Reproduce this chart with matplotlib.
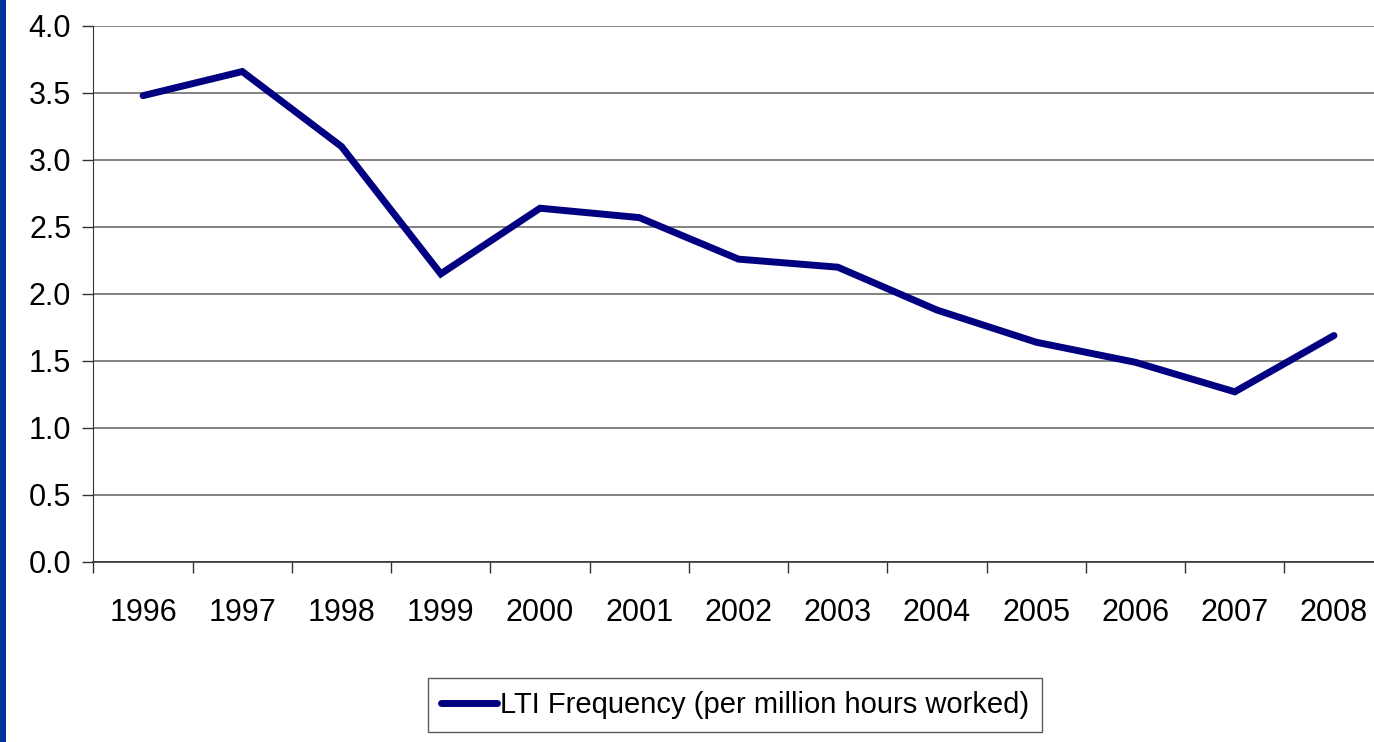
import matplotlib
matplotlib.use("Agg")
import matplotlib.pyplot as plt
from matplotlib.patches import Rectangle
import numpy as np

# -----------------------------
# Data
# -----------------------------
years = ["1996", "1997", "1998", "1999", "2000", "2001", "2002",
         "2003", "2004", "2005", "2006", "2007", "2008"]
lti_frequency = [3.48, 3.66, 3.10, 2.15, 2.64, 2.57, 2.26,
                 2.20, 1.88, 1.64, 1.49, 1.27, 1.69]
series_label = "LTI Frequency (per million hours worked)"

plt.rcParams["font.family"] = ["Liberation Sans Narrow", "Liberation Sans", "DejaVu Sans"]

fig = plt.figure(figsize=(13.74, 7.42), dpi=100)
ax = fig.add_axes([0.068, 0.2426, 0.939, 0.7224])

x = np.arange(len(years))
ax.plot(x, lti_frequency, color="#000080", linewidth=5.0,
        solid_joinstyle="miter", solid_capstyle="round", label=series_label)

ax.set_xlim(-0.5, len(years) - 0.5)
ax.set_ylim(0, 4.0)
ax.set_yticks(np.arange(0, 4.01, 0.5))
ax.set_yticklabels([f"{v:.1f}" for v in np.arange(0, 4.01, 0.5)])
ax.yaxis.grid(True, color="#777777", linewidth=1.3)
ax.set_axisbelow(True)

# ticks between categories, labels at centres
ax.set_xticks(np.arange(-0.5, len(years), 1.0))
ax.set_xticklabels([])
ax.set_xticks(x, minor=True)
ax.set_xticklabels(years, minor=True)
ax.tick_params(axis="x", which="major", direction="out", length=8, width=1, color="#333333")
ax.tick_params(axis="x", which="minor", length=0, pad=26, labelsize=22)
ax.tick_params(axis="y", direction="out", length=8, width=1, pad=8, labelsize=22,
               color="#333333")

for side in ["top", "right"]:
    ax.spines[side].set_visible(False)
ax.spines["left"].set_color("#333333")
ax.spines["bottom"].set_color("#333333")
ax.spines["bottom"].set_linewidth(1.2)

# blue strip at the left edge
fig.patches.append(Rectangle((0, 0), 6 / 1374, 1, transform=fig.transFigure,
                             facecolor="#003399", edgecolor="none"))

leg = fig.legend(loc="center", bbox_to_anchor=(0.535, 0.05), fontsize=21,
                 frameon=True, fancybox=False, handlelength=1.9,
                 handletextpad=0.1, borderpad=0.45)
leg.get_frame().set_edgecolor("#333333")
leg.get_frame().set_linewidth(1.0)

fig.savefig("out.png", dpi=100)
